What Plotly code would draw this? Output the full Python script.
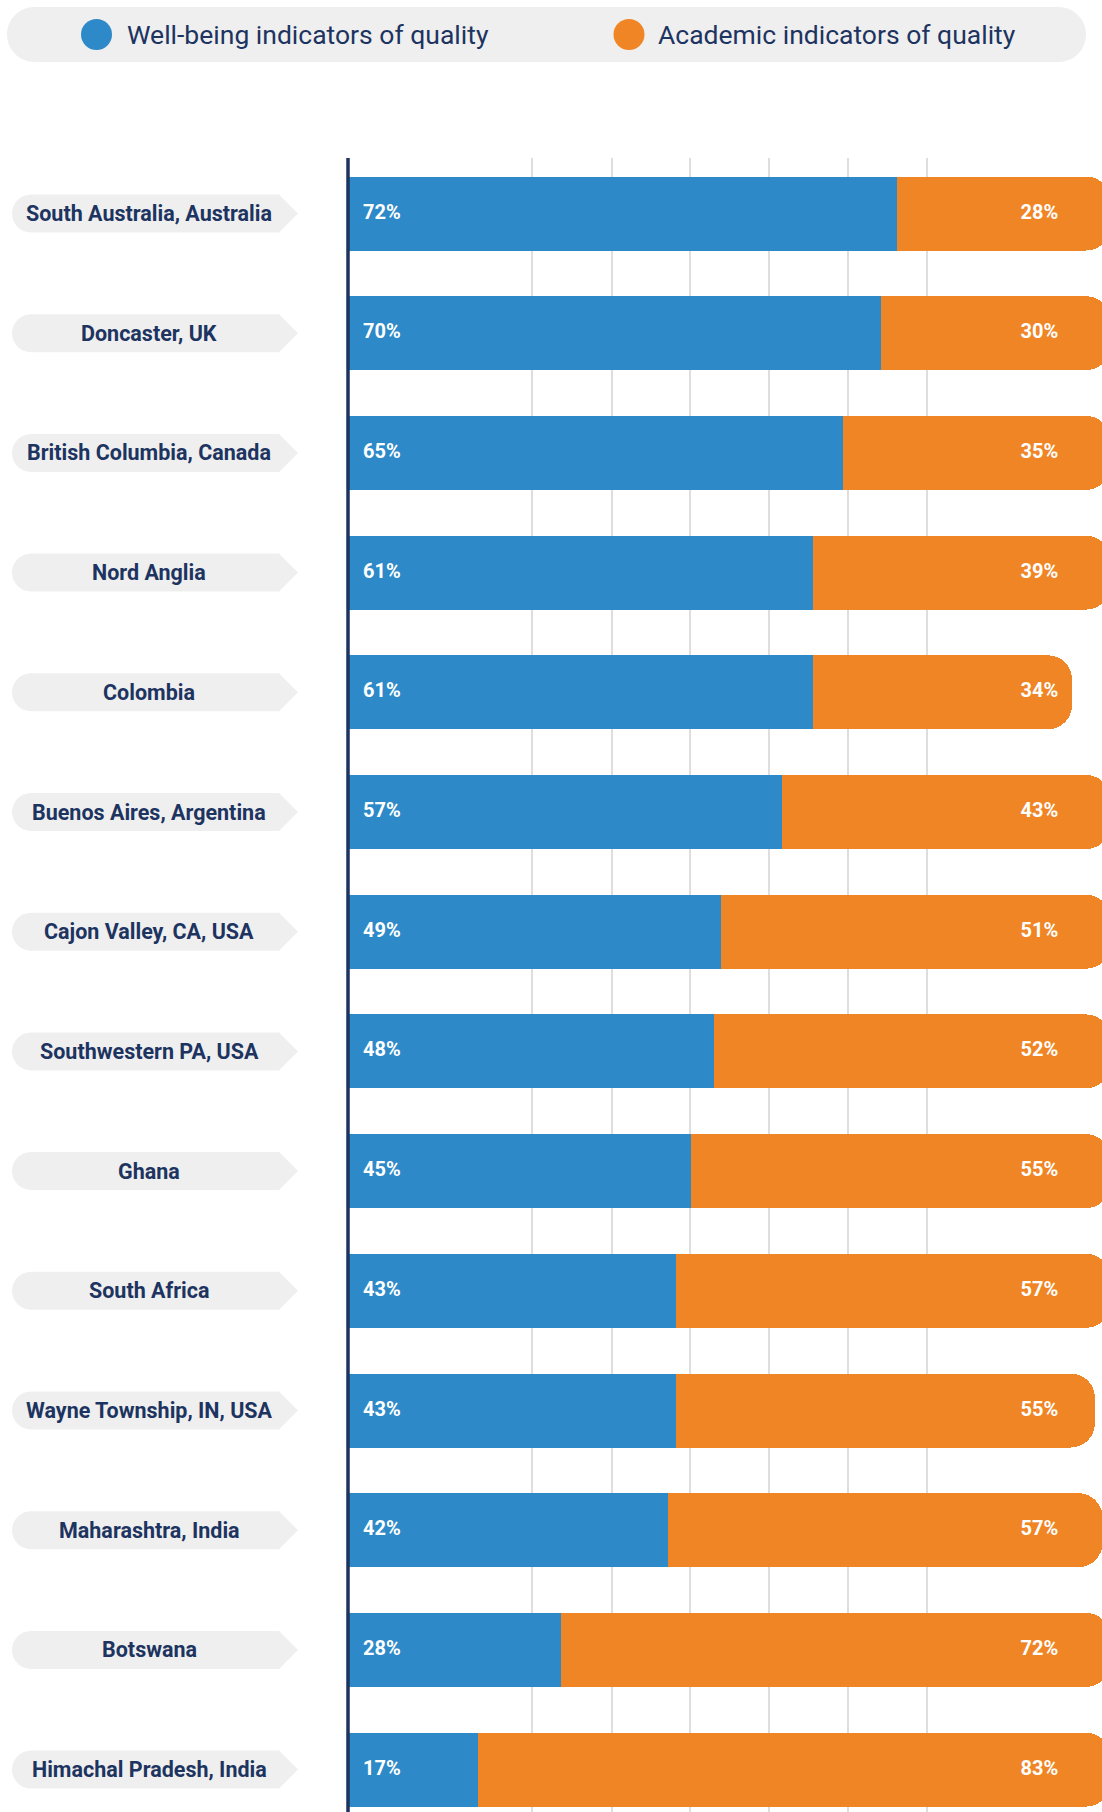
import plotly.graph_objects as go

# ---------------- data ----------------
categories = [
    "South Australia, Australia", "Doncaster, UK", "British Columbia, Canada",
    "Nord Anglia", "Colombia", "Buenos Aires, Argentina", "Cajon Valley, CA, USA",
    "Southwestern PA, USA", "Ghana", "South Africa", "Wayne Township, IN, USA",
    "Maharashtra, India", "Botswana", "Himachal Pradesh, India",
]
wellbeing = [72, 70, 65, 61, 61, 57, 49, 48, 45, 43, 43, 42, 28, 17]
academic = [28, 30, 35, 39, 34, 43, 51, 52, 55, 57, 55, 57, 72, 83]
series_names = ["Well-being indicators of quality", "Academic indicators of quality"]
grid_ticks = [24.2, 34.6, 44.9, 55.3, 65.6, 76.0]

# ---------------- style ----------------
BLUE = "#2D89C8"
ORANGE = "#F08526"
NAVY = "#1D3461"
PILL = "#EFEFEF"
GRID = "#DEDEDE"
FONT = "Roboto"

W, H = 1102, 1812
L, T = 348, 158
PW, PH = W - L, H - T
ROW0, ROWSTEP = 213.5, 119.7
FULL_PX = 762.1  # pixel length of 100 %
n = len(categories)
y_top = -(ROW0 - T) / ROWSTEP
y_bot = y_top + PH / ROWSTEP
x_max = PW / FULL_PX * 100


def xp(px):
    return (px - L) / PW


def yp(py):
    return (H - py) / PH


fig = go.Figure()
fig.add_bar(y=categories, x=wellbeing, orientation="h", name=series_names[0],
            marker=dict(color=BLUE, line=dict(width=0)), showlegend=False,
            hoverinfo="skip")
fig.add_bar(y=categories, x=academic, orientation="h", name=series_names[1],
            marker=dict(color=ORANGE, line=dict(width=0)), showlegend=False,
            hoverinfo="skip")

fig.add_scatter(y=categories, x=[1.97] * n, mode="text",
                text=[f"{v}%" for v in wellbeing], textposition="middle right",
                textfont=dict(family=FONT, size=20, color="white", weight="bold"),
                showlegend=False, hoverinfo="skip", cliponaxis=False)
fig.add_scatter(y=categories, x=[93.2] * n, mode="text",
                text=[f"{v}%" for v in academic], textposition="middle left",
                textfont=dict(family=FONT, size=20, color="white", weight="bold"),
                showlegend=False, hoverinfo="skip", cliponaxis=False)

shapes = []
annotations = []
K = 0.5523
# category pills
half = 19 / ROWSTEP
r = 19
for i, cat in enumerate(categories):
    xl, xs, xt = 12, 279, 298
    path = (
        f"M {xp(xl + r)} {i - half} L {xp(xs)} {i - half} L {xp(xt)} {i} "
        f"L {xp(xs)} {i + half} L {xp(xl + r)} {i + half} "
        f"C {xp(xl + r - r * K)} {i + half} {xp(xl)} {i + half * K} {xp(xl)} {i} "
        f"C {xp(xl)} {i - half * K} {xp(xl + r - r * K)} {i - half} {xp(xl + r)} {i - half} Z"
    )
    shapes.append(dict(type="path", xref="paper", yref="y", path=path,
                       fillcolor=PILL, line=dict(width=0), layer="below"))
    annotations.append(dict(x=xp(149), y=cat, xref="paper", yref="y",
                            text=cat, showarrow=False, xanchor="center",
                            yanchor="middle",
                            font=dict(family=FONT, size=21.5, color=NAVY,
                                      weight="bold")))

# vertical axis line
shapes.append(dict(type="line", xref="paper", yref="paper", x0=xp(348), x1=xp(348),
                   y0=0, y1=1, line=dict(color=NAVY, width=3.5), layer="above"))

# legend pill
lx0, lx1, ly0, ly1 = 7, 1086, 7, 62
lr = (ly1 - ly0) / 2
lpath = (
    f"M {xp(lx0 + lr)} {yp(ly0)} L {xp(lx1 - lr)} {yp(ly0)} "
    f"C {xp(lx1 - lr + lr * K)} {yp(ly0)} {xp(lx1)} {yp(ly0 + lr - lr * K)} {xp(lx1)} {yp(ly0 + lr)} "
    f"C {xp(lx1)} {yp(ly1 - lr + lr * K)} {xp(lx1 - lr + lr * K)} {yp(ly1)} {xp(lx1 - lr)} {yp(ly1)} "
    f"L {xp(lx0 + lr)} {yp(ly1)} "
    f"C {xp(lx0 + lr - lr * K)} {yp(ly1)} {xp(lx0)} {yp(ly1 - lr + lr * K)} {xp(lx0)} {yp(ly0 + lr)} "
    f"C {xp(lx0)} {yp(ly0 + lr - lr * K)} {xp(lx0 + lr - lr * K)} {yp(ly0)} {xp(lx0 + lr)} {yp(ly0)} Z"
)
shapes.append(dict(type="path", xref="paper", yref="paper", path=lpath,
                   fillcolor=PILL, line=dict(width=0), layer="below"))

legend_items = [(series_names[0], BLUE, 96.5, 125), (series_names[1], ORANGE, 629, 656)]
for name, col, cx, tx in legend_items:
    shapes.append(dict(type="circle", xref="paper", yref="paper",
                       x0=xp(cx - 15.5), x1=xp(cx + 15.5), y0=yp(34.5 + 15.5),
                       y1=yp(34.5 - 15.5), fillcolor=col, line=dict(width=0)))
    annotations.append(dict(x=xp(tx), y=yp(34.5), xref="paper", yref="paper",
                            text=name, showarrow=False, xanchor="left",
                            yanchor="middle",
                            font=dict(family=FONT, size=26.5, color=NAVY)))

fig.update_layout(
    width=W, height=H,
    margin=dict(l=L, r=0, t=T, b=0, pad=0),
    barmode="stack", bargap=1 - 74 / ROWSTEP, barcornerradius=24,
    paper_bgcolor="white", plot_bgcolor="white",
    showlegend=False,
    shapes=shapes, annotations=annotations,
    xaxis=dict(range=[0, x_max], tickvals=grid_ticks, showticklabels=False,
               showgrid=True, gridcolor=GRID, gridwidth=1.5, zeroline=False,
               showline=False, ticks="", fixedrange=True),
    yaxis=dict(type="category", range=[y_bot, y_top], showticklabels=False,
               showgrid=False, zeroline=False, showline=False,
               ticks="", fixedrange=True),
    font=dict(family=FONT),
)

fig.write_html(
    "out.html",
    config={"displayModeBar": False},
    post_script="document.body.style.margin='0';document.body.style.overflow='hidden';",
)
